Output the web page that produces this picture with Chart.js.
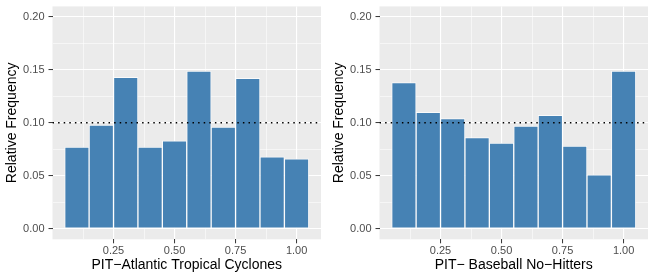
<!DOCTYPE html>
<html>
<head>
<meta charset="utf-8">
<script src="https://cdn.jsdelivr.net/npm/chart.js@4/dist/chart.umd.min.js"></script>
<style>
  html, body { margin: 0; padding: 0; background: #fff; }
  .row { display: flex; width: 654px; height: 280px; }
  canvas { display: block; }
</style>
</head>
<body>
<div class="row">
  <canvas id="atlantic" width="327" height="280"></canvas>
  <canvas id="baseball" width="327" height="280"></canvas>
</div>
<script>
// PIT histogram bins (centres) and relative frequencies
const binCenters = [0.1, 0.2, 0.3, 0.4, 0.5, 0.6, 0.7, 0.8, 0.9, 1.0];
const atlanticFreq = [0.077, 0.098, 0.143, 0.077, 0.083, 0.149, 0.096, 0.142, 0.068, 0.066];
const baseballFreq = [0.138, 0.110, 0.104, 0.086, 0.081, 0.097, 0.107, 0.078, 0.051, 0.149];
const refLevel = 0.1;

const xMajorTicks = [0.25, 0.5, 0.75, 1.0];
const xMinorTicks = [0.125, 0.375, 0.625, 0.875];
const yMajorTicks = [0, 0.05, 0.1, 0.15, 0.2];
const yMinorTicks = [0.025, 0.075, 0.125, 0.175];

const FONT = "'Liberation Sans', Arial, sans-serif";

function tickList(major, minor) {
  return major.map(v => ({ value: v, major: true }))
    .concat(minor.map(v => ({ value: v, major: false })))
    .sort((a, b) => a.value - b.value);
}

function isMajor(list, v) {
  return list.some(m => Math.abs(m - v) < 1e-9);
}

function gridOpts(majors) {
  return {
    color: "#ffffff",
    lineWidth: c => (c.tick && isMajor(majors, c.tick.value)) ? 1.1 : 0.55,
    tickColor: c => (c.tick && isMajor(majors, c.tick.value)) ? "#333333" : "rgba(0,0,0,0)",
    tickWidth: 1,
    tickLength: 4,
    offset: false
  };
}

function makeChart(id, freqs, xTitle) {
  const ctx = document.getElementById(id);
  return new Chart(ctx, {
    type: "bar",
    data: {
      datasets: [
        {
          type: "line",
          data: [{ x: 0, y: refLevel }, { x: 1.1, y: refLevel }],
          borderColor: "#000000",
          borderWidth: 1.5,
          borderDash: [1.5, 4.1],
          pointRadius: 0,
          order: 0
        },
        {
          type: "bar",
          data: binCenters.map((x, i) => ({ x, y: freqs[i] })),
          backgroundColor: "#4682B4",
          borderColor: "rgba(255,255,255,0.75)",
          borderWidth: 1,
          borderSkipped: false,
          barPercentage: 1,
          categoryPercentage: 1,
          order: 1
        }
      ]
    },
    options: {
      responsive: false,
      animation: false,
      layout: { padding: { top: 6.4, right: 6, left: 0, bottom: 0 } },
      plugins: { legend: { display: false }, tooltip: { enabled: false } },
      scales: {
        x: {
          type: "linear",
          min: 0,
          max: 1.1,
          offset: false,
          grid: gridOpts(xMajorTicks),
          border: { display: false },
          afterBuildTicks: s => { s.ticks = tickList(xMajorTicks, xMinorTicks); },
          afterFit: s => { s.height = 40.7; s.paddingLeft = 0; s.paddingRight = 0; },
          ticks: {
            autoSkip: false,
            maxRotation: 0,
            padding: 1,
            color: "#4D4D4D",
            font: { family: FONT, size: 11 },
            callback: v => isMajor(xMajorTicks, v) ? v.toFixed(2) : ""
          },
          title: {
            display: true,
            text: xTitle,
            color: "#000000",
            font: { family: FONT, size: 14 },
            padding: { top: 2, bottom: 6 }
          }
        },
        y: {
          type: "linear",
          min: -0.01,
          max: 0.21,
          grid: gridOpts(yMajorTicks),
          border: { display: false },
          afterBuildTicks: s => { s.ticks = tickList(yMajorTicks, yMinorTicks); },
          afterFit: s => { s.width = 52.5; s.paddingTop = 0; s.paddingBottom = 0; },
          ticks: {
            autoSkip: false,
            padding: 4,
            color: "#4D4D4D",
            font: { family: FONT, size: 11 },
            callback: v => isMajor(yMajorTicks, v) ? v.toFixed(2) : ""
          },
          title: {
            display: true,
            text: "Relative Frequency",
            color: "#000000",
            font: { family: FONT, size: 14 },
            padding: { top: 4, bottom: 2 }
          }
        }
      }
    },
    plugins: [{
      id: "panelBg",
      beforeDraw(chart) {
        const a = chart.chartArea;
        const c = chart.ctx;
        c.save();
        c.fillStyle = "#EBEBEB";
        c.fillRect(a.left, a.top, a.right - a.left, a.bottom - a.top);
        c.restore();
      }
    }]
  });
}

makeChart("atlantic", atlanticFreq, "PIT\u2212Atlantic Tropical Cyclones");
makeChart("baseball", baseballFreq, "PIT\u2212 Baseball No\u2212Hitters");
</script>
</body>
</html>
